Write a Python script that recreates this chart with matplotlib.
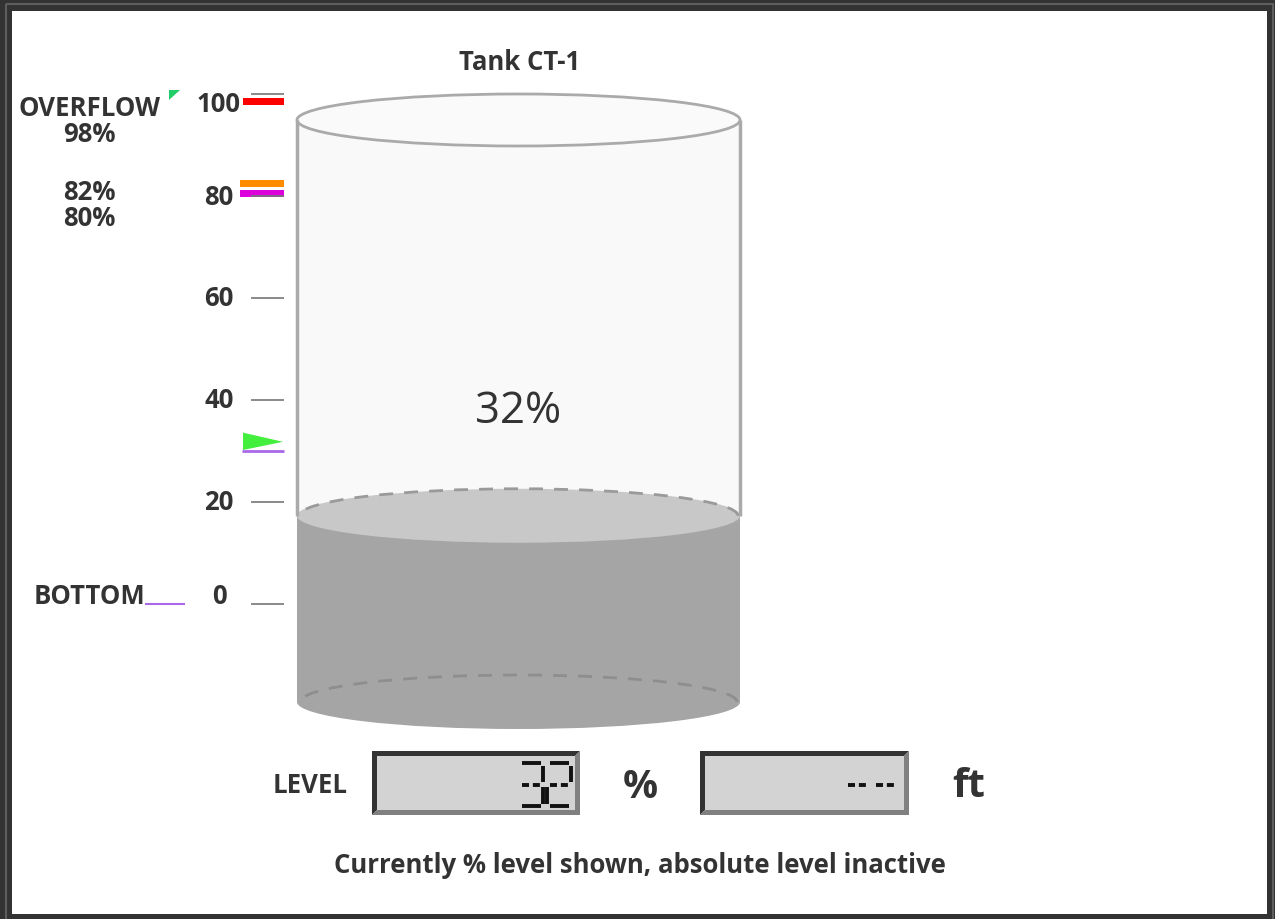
import matplotlib.pyplot as plt
from matplotlib.patches import Rectangle, Ellipse, Arc, Polygon

plt.rcParams["font.family"] = ["Open Sans", "DejaVu Sans"]

# Data
tank_name = "Tank CT-1"
level_pct = 32
scale_ticks = [0, 20, 40, 60, 80, 100]
alarm_values = [98, 82, 80]
alarm_colors = ["#ff0000", "#ff8c00", "#dd00dd"]
setpoint = 30
level_display = "32"
feet_display = "--"
status_text = "Currently % level shown, absolute level inactive"

TXT = "#333333"
FS = 18.5
W, H = 1275, 920

fig = plt.figure(figsize=(12.75, 9.2), dpi=100, facecolor="#333333")

# background axes in pixel coordinates
ax = fig.add_axes([0, 0, 1, 1])
ax.set_xlim(0, W)
ax.set_ylim(H, 0)
ax.axis("off")

ax.add_patch(Rectangle((6, 5), 1266.5, 925, fill=False, ec="#5e5e5e", lw=1.5))
ax.add_patch(Rectangle((12, 12), 1255, 903, fc="white", ec="none"))

ax.text(520, 62, tank_name, fontsize=FS, fontweight="bold", color=TXT,
        ha="center", va="center")

# ---- tank, y in percent of tank height
TP, TZ = 5.82, 703
ax_t = fig.add_axes([0, 0, 1, 1])
ax_t.set_xlim(0, W)
ax_t.set_ylim((TZ - H) / TP, TZ / TP)
ax_t.axis("off")

cx, tw = 518.5, 443
eh = 54 / TP
x_left = cx - tw / 2
x_right = cx + tw / 2

ax_t.add_patch(Rectangle((x_left, 0), tw, 100, fc="#f9f9f9", ec="none"))
ax_t.vlines([x_left, x_right], level_pct, 100, color="#aaaaaa", lw=2.5)
ax_t.add_patch(Ellipse((cx, 0), tw, eh, fc="#a5a5a5", ec="none"))
ax_t.add_patch(Rectangle((x_left, 0), tw, level_pct, fc="#a5a5a5", ec="none"))
ax_t.add_patch(Arc((cx, 0), tw - 6, eh, theta1=0, theta2=180,
                   color="#8e8e8e", lw=2, ls=(0, (5, 4))))
ax_t.add_patch(Ellipse((cx, level_pct), tw, eh, fc="#c8c8c8", ec="none"))
ax_t.add_patch(Arc((cx, level_pct), tw - 4, eh, theta1=0, theta2=180,
                   color="#9a9a9a", lw=2, ls=(0, (5, 4))))
ax_t.add_patch(Ellipse((cx, 100), tw, 52 / TP, fc="#fafafa", ec="#aaaaaa", lw=2))

ax_t.text(cx, 50, f"{level_pct}%", fontsize=31.5, color=TXT, ha="center", va="center")

# ---- level scale, y in percent
PX, ZERO = 5.1, 605
ax_s = fig.add_axes([0, 0, 1, 1])
ax_s.set_xlim(0, W)
ax_s.set_ylim((ZERO - H) / PX, ZERO / PX)
ax_s.axis("off")

for v, c in zip(alarm_values, alarm_colors):
    x0 = 243 if v == max(alarm_values) else 240
    ax_s.add_patch(Rectangle((x0, v + 0.5 - 0.72), 284 - x0, 1.45, fc=c, ec="none"))

ax_s.hlines(scale_ticks, 251, 284, color="#777777", lw=1.2)
for v in scale_ticks:
    ax_s.text(219, min(max(v, 1.6), 98.2), str(v), fontsize=FS, fontweight="bold",
              color=TXT, ha="center", va="center")

ax_s.add_patch(Polygon([(243, setpoint + 0.2), (243, setpoint + 3.6), (283, setpoint + 1.8)],
                       closed=True, fc="#44ee3c", ec="none"))
ax_s.hlines(setpoint, 242, 284, color="#a868e8", lw=2)
ax_s.hlines(0, 145, 185, color="#a868e8", lw=1.5)

# alarm labels on the left
ax.add_patch(Polygon([(169, 91), (180, 91), (169, 101)], closed=True, fc="#22cc66", ec="none"))
ax.text(90, 109, "OVERFLOW", fontsize=FS, fontweight="bold", color=TXT, ha="center", va="center")
for v, y in zip(alarm_values, [135, 192, 218]):
    ax.text(89, y, f"{v}%", fontsize=FS, fontweight="bold", color=TXT, ha="center", va="center")
ax.text(90, 597, "BOTTOM", fontsize=FS, fontweight="bold", color=TXT, ha="center", va="center")

# ---- LCD displays
SEG = {"0": "abcdef", "1": "bc", "2": "abged", "3": "abgcd", "4": "fgbc",
       "5": "afgcd", "6": "afgedc", "7": "abc", "8": "abcdefg", "9": "abcdfg", "-": "g"}


def lcd_box(x0, y0, x1, y1, b=5):
    ax.add_patch(Polygon([(x0, y1), (x0, y0), (x1, y0), (x1 - b, y0 + b),
                          (x0 + b, y0 + b), (x0 + b, y1 - b)], fc="#333333", ec="none"))
    ax.add_patch(Polygon([(x1, y0), (x1, y1), (x0, y1), (x0 + b, y1 - b),
                          (x1 - b, y1 - b), (x1 - b, y0 + b)], fc="#808080", ec="none"))
    ax.add_patch(Rectangle((x0 + b, y0 + b), x1 - x0 - 2 * b, y1 - y0 - 2 * b,
                           fc="#d3d3d3", ec="none"))


def lcd_digits(text, right, top=764, bottom=807, w=24, pitch=28):
    mid = (top + bottom) / 2
    g = 2.5
    for i, ch in enumerate(reversed(text)):
        x = right - w - i * pitch
        seg = {
            "a": ([x + g, x + w - g], [top, top]),
            "b": ([x + w, x + w], [top + g, mid - g]),
            "c": ([x + w, x + w], [mid + g, bottom - g]),
            "d": ([x + g, x + w - g], [bottom, bottom]),
            "e": ([x, x], [mid + g, bottom - g]),
            "f": ([x, x], [top + g, mid - g]),
            "g": ([x + g, x + w - g], [mid, mid]),
        }
        for s in SEG[ch]:
            xs, ys = seg[s]
            ls = (0, (1.8, 1.0)) if s == "g" else "-"
            ax.plot(xs, ys, color="#111111", lw=2.8, ls=ls, solid_capstyle="butt")


lcd_box(372, 752, 580, 816)
lcd_digits(level_display, 571)
lcd_box(700, 752, 909, 816)
lcd_digits(feet_display, 897)

ax.text(310, 786, "LEVEL", fontsize=FS, fontweight="bold", color=TXT, ha="center", va="center")
ax.text(640, 788, "%", fontsize=28, fontweight="bold", color=TXT, ha="center", va="center")
ax.text(969, 787, "ft", fontsize=29, fontweight="bold", color=TXT, ha="center", va="center")

ax.text(640, 866, status_text, fontsize=FS, fontweight="bold", color=TXT,
        ha="center", va="center")

plt.savefig("out.png", dpi=100, facecolor=fig.get_facecolor())
